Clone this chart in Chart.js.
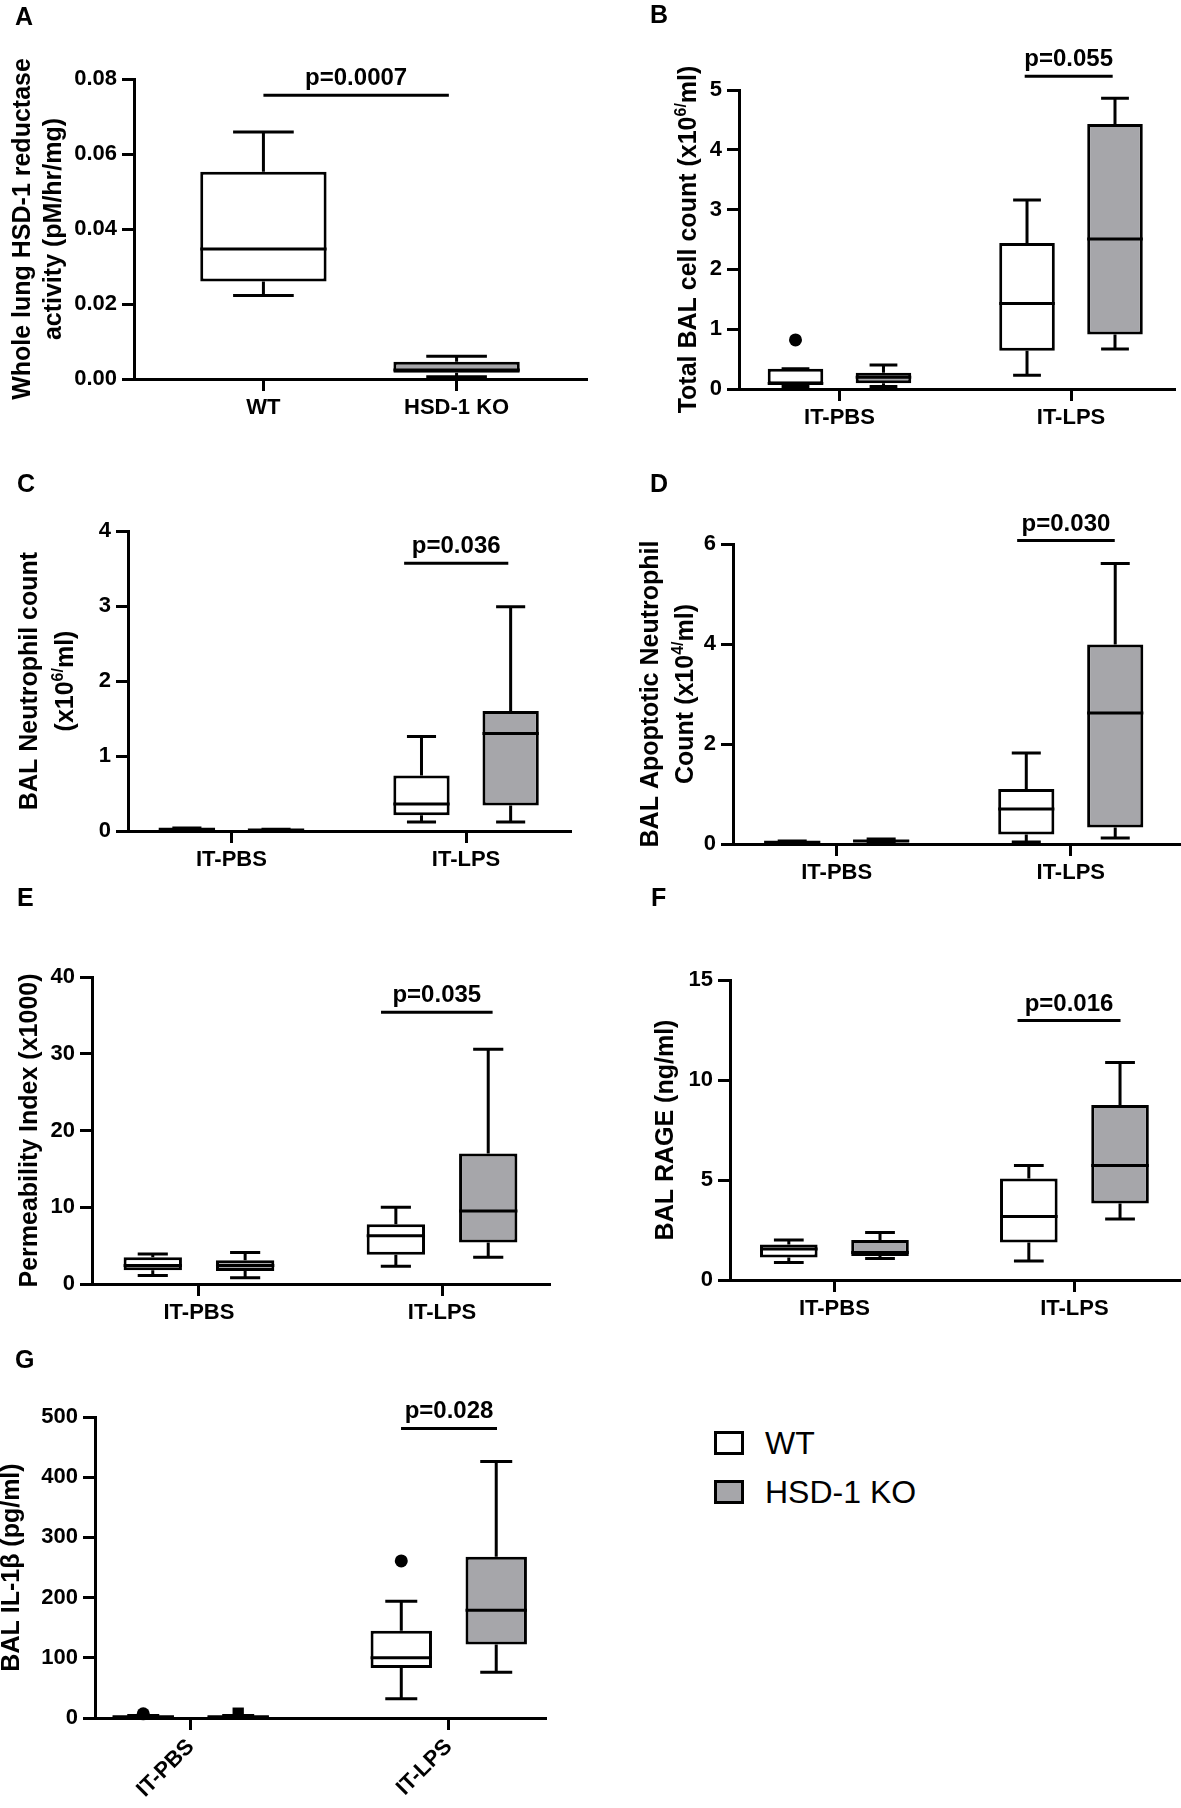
<!DOCTYPE html>
<html>
<head>
<meta charset="utf-8">
<script src="https://cdn.jsdelivr.net/npm/chart.js@4.4.1/dist/chart.umd.min.js"></script>
<style>
  html, body { margin: 0; padding: 0; background: #ffffff; }
  body { width: 1181px; height: 1808px; position: relative; overflow: hidden;
         font-family: 'Liberation Sans', Arial, Helvetica, sans-serif; }
  canvas { position: absolute; }
  .lbox { position: absolute; width: 24px; height: 18px; border: 3px solid #000; }
  .ltxt { position: absolute; font-size: 32px; line-height: 32px; color: #000; white-space: nowrap; }
</style>
</head>
<body>
<canvas id="cA" width="600" height="445" style="left:0px;top:0px"></canvas>
<canvas id="cB" width="581" height="445" style="left:600px;top:0px"></canvas>
<canvas id="cC" width="600" height="440" style="left:0px;top:445px"></canvas>
<canvas id="cD" width="581" height="440" style="left:600px;top:445px"></canvas>
<canvas id="cE" width="600" height="440" style="left:0px;top:885px"></canvas>
<canvas id="cF" width="581" height="440" style="left:600px;top:885px"></canvas>
<canvas id="cG" width="600" height="483" style="left:0px;top:1325px"></canvas>

<div class="lbox" style="left:714px;top:1431px;background:#ffffff"></div>
<div class="ltxt" style="left:765px;top:1427px">WT</div>
<div class="lbox" style="left:714px;top:1480px;background:#a6a6aa"></div>
<div class="ltxt" style="left:765px;top:1476px">HSD-1 KO</div>

<script>
// ---------------- DATA ----------------
// Each box: [min, q1, median, q3, max]
const groupLabels = ['IT-PBS', 'IT-LPS'];
const seriesNames = ['WT', 'HSD-1 KO'];

// Panel A
const aCategories = ['WT', 'HSD-1 KO'];
const aBoxes = [[0.0223, 0.0260, 0.0347, 0.0553, 0.0659], [0.0006, 0.0017, 0.0024, 0.0046, 0.0061]];
const aTicks = [0, 0.02, 0.04, 0.06, 0.08];
const aP = 'p=0.0007';
const aLevel = 0.0757;

// Panel B
const bWT = [[0.04, 0.08, 0.09, 0.34, 0.34], [0.23, 0.64, 1.43, 2.44, 3.16]];
const bKO = [[0.04, 0.095, 0.195, 0.27, 0.40], [0.67, 0.91, 2.51, 4.43, 4.86]];
const bOutWT = [[0.82], []];
const bOutKO = [[], []];
const bTicks = [0, 1, 2, 3, 4, 5];
const bP = 'p=0.055';
const bLevel = 5.23;

// Panel C
const cWT = [[0.01, 0.015, 0.025, 0.035, 0.04], [0.12, 0.21, 0.36, 0.74, 1.26]];
const cKO = [[0.005, 0.008, 0.012, 0.018, 0.022], [0.12, 0.34, 1.30, 1.60, 2.99]];
const cTicks = [0, 1, 2, 3, 4];
const cP = 'p=0.036';
const cLevel = 3.57;

// Panel D
const dWT = [[0.02, 0.03, 0.035, 0.05, 0.06], [0.04, 0.19, 0.70, 1.10, 1.82]];
const dKO = [[0.03, 0.045, 0.06, 0.08, 0.10], [0.12, 0.33, 2.62, 3.99, 5.61]];
const dTicks = [0, 2, 4, 6];
const dP = 'p=0.030';
const dLevel = 6.07;

// Panel E
const eWT = [[1.1, 1.8, 2.4, 3.5, 3.9], [2.3, 3.8, 6.3, 7.8, 10.0]];
const eKO = [[0.8, 1.7, 2.4, 3.1, 4.1], [3.5, 5.4, 9.5, 17.0, 30.6]];
const eTicks = [0, 10, 20, 30, 40];
const eP = 'p=0.035';
const eLevel = 35.4;

// Panel F
const fWT = [[0.87, 1.12, 1.55, 1.78, 2.0], [0.95, 1.88, 3.17, 5.08, 5.72]];
const fKO = [[1.08, 1.2, 1.37, 2.0, 2.38], [3.05, 3.83, 5.72, 8.75, 10.88]];
const fTicks = [0, 5, 10, 15];
const fP = 'p=0.016';
const fLevel = 12.97;

// Panel G
const gWT = [[1, 1.5, 2, 3, 4], [32, 83, 100, 145, 194]];
const gKO = [[1, 1.5, 2, 3, 4], [76, 122, 179, 268, 426]];
const gOutWT = [[7], [261]];
const gOutKO = [[8], []];
const gTicks = [0, 100, 200, 300, 400, 500];
const gP = 'p=0.028';
const gLevel = 481;

// ---------------- STYLE / LAYOUT ----------------
const FONT = "'Liberation Sans', Arial, Helvetica, sans-serif";
const FILL_WT = '#ffffff';
const FILL_KO = '#a6a6aa';
Chart.defaults.font.family = FONT;
Chart.defaults.color = '#000';

function drawRich(ctx, runs, cx, cy, size) {
  ctx.save();
  ctx.translate(cx, cy);
  ctx.rotate(-Math.PI / 2);
  const norm = 'bold ' + size + 'px ' + FONT;
  const sup = 'bold ' + Math.round(size * 0.64) + 'px ' + FONT;
  let total = 0;
  const ws = runs.map(r => {
    ctx.font = (typeof r === 'string') ? norm : sup;
    const w = ctx.measureText(typeof r === 'string' ? r : r.sup).width;
    total += w;
    return w;
  });
  let x = -total / 2;
  ctx.textAlign = 'left';
  ctx.textBaseline = 'alphabetic';
  ctx.fillStyle = '#000';
  runs.forEach((r, i) => {
    if (typeof r === 'string') {
      ctx.font = norm;
      ctx.fillText(r, x, size * 0.36);
    } else {
      ctx.font = sup;
      ctx.fillText(r.sup, x, size * 0.36 - size * 0.40);
    }
    x += ws[i];
  });
  ctx.restore();
}

function makeDecor(cfg) {
  return {
    id: 'decor' + cfg.letter,
    afterDraw(chart) {
      const ctx = chart.ctx;
      const a = chart.chartArea;
      ctx.save();
      ctx.fillStyle = '#000';
      ctx.textAlign = 'left';
      ctx.textBaseline = 'alphabetic';
      ctx.font = 'bold 25px ' + FONT;
      ctx.fillText(cfg.letter, cfg.letterPos[0], cfg.letterPos[1]);
      const cy = (a.top + a.bottom) / 2;
      cfg.title.forEach((line, i) => drawRich(ctx, line, cfg.titleX[i], cy, 25));
      const meta = chart.getDatasetMeta(cfg.sigIndex);
      const p0 = meta.data[0], p1 = meta.data[1];
      ctx.font = 'bold 24px ' + FONT;
      ctx.textAlign = 'center';
      ctx.fillText(cfg.pText, (p0.x + p1.x) / 2, p0.y - 10);
      ctx.restore();
    }
  };
}

// series: array of {boxes: [...per category], outliers: [...per category], fill: color or array per category, marker}
function buildPanel(id, lay, cats, series, yTicks, yFmt, pText, pLevel, title) {
  const nS = series.length;
  const boxes = [];
  const outPts = [];
  const outStyles = [];
  series.forEach((s, si) => {
    s.boxes.forEach((v, gi) => {
      const x = (gi + 1) + (si - (nS - 1) / 2) * 2 * lay.offset;
      const fill = Array.isArray(s.fill) ? s.fill[gi] : s.fill;
      boxes.push({ x, v, fill });
      (s.outliers ? s.outliers[gi] : []).forEach(o => {
        outPts.push({ x, y: o });
        outStyles.push(s.marker);
      });
    });
  });
  const xs = [...new Set(boxes.map(b => b.x))].sort((p, q) => p - q);
  let minGap = 1;
  for (let i = 1; i < xs.length; i++) minGap = Math.min(minGap, xs[i] - xs[i - 1]);

  const segs = [];
  const brk = x => ({ x, y: null });
  boxes.forEach(b => {
    const [mn, q1, md, q3, mx] = b.v;
    const c = b.x;
    segs.push(
      { x: c, y: q3 }, { x: c, y: mx }, brk(c),
      { x: c - lay.cap, y: mx }, { x: c + lay.cap, y: mx }, brk(c),
      { x: c, y: q1 }, { x: c, y: mn }, brk(c),
      { x: c - lay.cap, y: mn }, { x: c + lay.cap, y: mn }, brk(c),
      { x: c - lay.half, y: md }, { x: c + lay.half, y: md }, brk(c)
    );
  });

  const datasets = [
    { // 0: significance bar
      type: 'line', data: [{ x: lay.sig[0], y: pLevel }, { x: lay.sig[1], y: pLevel }],
      borderColor: '#000', borderWidth: 3, pointRadius: 0, fill: false, tension: 0,
      borderCapStyle: 'butt', clip: false, order: 1
    },
    { // 1: outliers
      type: 'line', data: outPts, showLine: false, pointRadius: outStyles.map(s => s === 'rect' ? 8 : 6.5),
      pointStyle: outStyles, pointBackgroundColor: '#000', pointBorderColor: '#000', pointBorderWidth: 0,
      clip: false, order: 0
    },
    { // 2: whiskers, caps, medians
      type: 'line', data: segs, borderColor: '#000', borderWidth: 3, pointRadius: 0,
      spanGaps: false, fill: false, tension: 0, borderCapStyle: 'butt', clip: false, order: 2
    },
    { // 3: boxes (q1..q3)
      type: 'bar', data: boxes.map(b => ({ x: b.x, y: [b.v[1], b.v[3]] })),
      backgroundColor: boxes.map(b => b.fill), borderColor: '#000', borderWidth: 3,
      borderSkipped: false, barPercentage: (2 * lay.half) / minGap, categoryPercentage: 1, order: 3
    }
  ];

  const gridOpt = { drawOnChartArea: false, drawTicks: true, tickLength: 12, lineWidth: 3, color: '#000', offset: false };
  const borderOpt = { display: true, width: 3, color: '#000' };
  const tickFont = { size: 22, weight: 'bold', family: FONT };

  new Chart(document.getElementById(id), {
    type: 'bar',
    data: { datasets },
    options: {
      responsive: false,
      animation: false,
      events: [],
      layout: { padding: { left: 0, top: lay.top, right: lay.right, bottom: 0 } },
      plugins: { legend: { display: false }, tooltip: { enabled: false }, title: { display: false } },
      scales: {
        x: {
          type: 'linear', min: lay.xMin, max: lay.xMax, offset: false,
          grid: gridOpt, border: borderOpt,
          ticks: {
            font: tickFont, color: '#000', padding: 4, autoSkip: false,
            maxRotation: lay.rot || 0, minRotation: lay.rot || 0,
            callback: (v) => { const k = Math.round(v) - 1; return cats[k] !== undefined ? cats[k] : ''; }
          },
          afterBuildTicks: (s) => { s.ticks = cats.map((c, i) => ({ value: i + 1 })); },
          afterFit: (s) => { s.height = lay.xH; }
        },
        y: {
          type: 'linear', min: yTicks[0], max: yTicks[yTicks.length - 1],
          grid: gridOpt, border: borderOpt,
          ticks: { font: tickFont, color: '#000', padding: 5, callback: (v) => yFmt(v) },
          afterBuildTicks: (s) => { s.ticks = yTicks.map(v => ({ value: v })); },
          afterFit: (s) => { s.width = lay.yW; }
        }
      }
    },
    plugins: [makeDecor({
      letter: lay.letter, letterPos: lay.letterPos, title, titleX: lay.titleX,
      sigIndex: 0, pText
    })]
  });
}

const intFmt = v => String(Math.round(v));

// Panel A
buildPanel('cA',
  { yW: 134, top: 79, right: 14, xH: 66, xMin: 0.33, xMax: 2.67, offset: 0, half: 0.327, cap: 0.157,
    sig: [1.0, 1.96], letter: 'A', letterPos: [15, 25], titleX: [21, 52] },
  aCategories,
  [{ boxes: aBoxes, fill: [FILL_WT, FILL_KO] }],
  aTicks, v => v.toFixed(2), aP, aLevel,
  [['Whole lung HSD-1 reductase'], ['activity (pM/hr/mg)']]);

// Panel B
buildPanel('cB',
  { yW: 139, top: 90, right: 0, xH: 56, xMin: 0.566, xMax: 2.447, offset: 0.19, half: 0.12, cap: 0.06,
    sig: [1.80, 2.18], letter: 'B', letterPos: [50, 23], titleX: [87] },
  groupLabels,
  [{ boxes: bWT, outliers: bOutWT, fill: FILL_WT, marker: 'circle' },
   { boxes: bKO, outliers: bOutKO, fill: FILL_KO, marker: 'rect' }],
  bTicks, intFmt, bP, bLevel,
  [['Total BAL cell count (x10', { sup: '6/' }, 'ml)']]);

// Panel C
buildPanel('cC',
  { yW: 128, top: 86, right: 30, xH: 54, xMin: 0.559, xMax: 2.443, offset: 0.19, half: 0.12, cap: 0.062,
    sig: [1.736, 2.18], letter: 'C', letterPos: [17, 47], titleX: [28, 64] },
  groupLabels,
  [{ boxes: cWT, fill: FILL_WT, marker: 'circle' },
   { boxes: cKO, fill: FILL_KO, marker: 'rect' }],
  cTicks, intFmt, cP, cLevel,
  [['BAL Neutrophil count'], ['(x10', { sup: '6/' }, 'ml)']]);

// Panel D
buildPanel('cD',
  { yW: 133, top: 99, right: 0, xH: 41, xMin: 0.557, xMax: 2.471, offset: 0.19, half: 0.12, cap: 0.062,
    sig: [1.771, 2.188], letter: 'D', letterPos: [50, 47], titleX: [49, 84] },
  groupLabels,
  [{ boxes: dWT, fill: FILL_WT, marker: 'circle' },
   { boxes: dKO, fill: FILL_KO, marker: 'rect' }],
  dTicks, intFmt, dP, dLevel,
  [['BAL Apoptotic Neutrophil'], ['Count (x10', { sup: '4/' }, 'ml)']]);

// Panel E
buildPanel('cE',
  { yW: 92, top: 92, right: 51, xH: 41, xMin: 0.56, xMax: 2.44, offset: 0.19, half: 0.12, cap: 0.062,
    sig: [1.749, 2.208], letter: 'E', letterPos: [17, 21], titleX: [28] },
  groupLabels,
  [{ boxes: eWT, fill: FILL_WT, marker: 'circle' },
   { boxes: eKO, fill: FILL_KO, marker: 'rect' }],
  eTicks, intFmt, eP, eLevel,
  [['Permeability Index (x1000)']]);

// Panel F
buildPanel('cF',
  { yW: 130, top: 95, right: 0, xH: 45, xMin: 0.565, xMax: 2.444, offset: 0.19, half: 0.12, cap: 0.062,
    sig: [1.763, 2.192], letter: 'F', letterPos: [51, 21], titleX: [64] },
  groupLabels,
  [{ boxes: fWT, fill: FILL_WT, marker: 'circle' },
   { boxes: fKO, fill: FILL_KO, marker: 'rect' }],
  fTicks, intFmt, fP, fLevel,
  [['BAL RAGE (ng/ml)']]);

// Panel G
buildPanel('cG',
  { yW: 95, top: 92, right: 55, xH: 90, xMin: 0.629, xMax: 2.373, offset: 0.184, half: 0.119, cap: 0.062,
    sig: [1.815, 2.187], letter: 'G', letterPos: [15, 43], titleX: [10], rot: 45 },
  groupLabels,
  [{ boxes: gWT, outliers: gOutWT, fill: FILL_WT, marker: 'circle' },
   { boxes: gKO, outliers: gOutKO, fill: FILL_KO, marker: 'rect' }],
  gTicks, intFmt, gP, gLevel,
  [['BAL IL-1\u03B2 (pg/ml)']]);
</script>
</body>
</html>
